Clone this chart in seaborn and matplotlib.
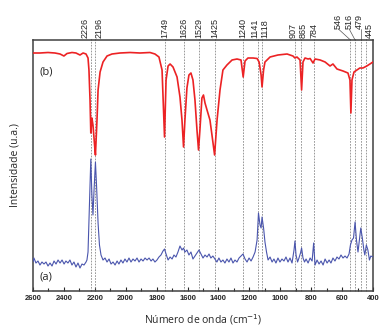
import numpy as np
import pandas as pd
import matplotlib
matplotlib.use("Agg")
import matplotlib.pyplot as plt
import seaborn as sns

# espectro (b) - vermelho
onda_b = [2600, 2555, 2503, 2458, 2425, 2400, 2380, 2348, 2322, 2296, 2276, 2257, 2244, 2238,
          2231, 2226, 2219, 2212, 2199, 2196, 2186, 2179, 2166, 2147, 2121, 2089, 2037, 1972,
          1908, 1843, 1811, 1785, 1765, 1749, 1739, 1726, 1713, 1694, 1668, 1649, 1636, 1626,
          1617, 1604, 1591, 1578, 1565, 1552, 1539, 1529, 1520, 1507, 1497, 1487, 1474, 1455,
          1442, 1425, 1409, 1390, 1371, 1345, 1312, 1280, 1254, 1240, 1228, 1209, 1176, 1150,
          1137, 1124, 1118, 1108, 1099, 1066, 1015, 956, 918, 905, 892, 872, 862, 853, 840,
          820, 807, 788, 775, 742, 710, 678, 659, 633, 594, 562, 549, 543, 536, 523, 504, 485,
          465, 440, 420, 400]
int_b = [238, 238, 238.5, 238, 237, 235, 237.5, 238.5, 238, 236, 238, 237, 233, 221,
         191, 158, 173, 166, 141, 136, 171, 201, 219, 229, 235, 237, 238, 238.5,
         238, 238.5, 237, 234, 221, 154, 211, 225, 227, 224, 214, 194, 171, 144,
         171, 203, 216, 218, 211, 191, 161, 141, 161, 193, 196, 188, 181, 171,
         156, 136, 171, 201, 221, 226, 231, 232, 231, 214, 230, 233, 233, 232.5,
         229, 216, 204, 221, 229, 234, 236, 237, 235, 233, 234, 231, 201, 229, 233,
         232, 232.5, 228, 232, 231, 229, 225, 227, 222, 220, 218, 211, 178, 211, 219, 221, 223,
         223, 225, 227, 229]

# espectro (a) - azul
onda_a = [2600, 2594, 2581, 2568, 2555, 2542, 2529, 2516, 2503, 2490, 2477, 2464, 2451, 2438,
          2425, 2412, 2399, 2387, 2374, 2361, 2348, 2335, 2322, 2309, 2296, 2283, 2270, 2257,
          2251, 2244, 2238, 2231, 2226, 2219, 2212, 2205, 2196, 2189, 2179, 2170, 2160, 2147,
          2134, 2121, 2108, 2095, 2082, 2069, 2056, 2044, 2031, 2018, 2005, 1992, 1979, 1966,
          1953, 1940, 1927, 1914, 1901, 1888, 1875, 1862, 1849, 1836, 1824, 1811, 1798, 1785,
          1772, 1759, 1749, 1739, 1726, 1713, 1700, 1688, 1675, 1662, 1649, 1636, 1626, 1617,
          1604, 1591, 1578, 1565, 1552, 1539, 1526, 1513, 1500, 1487, 1474, 1461, 1449, 1436,
          1423, 1410, 1397, 1384, 1371, 1358, 1345, 1332, 1319, 1306, 1293, 1280, 1267, 1254,
          1241, 1228, 1215, 1202, 1189, 1176, 1163, 1150, 1141, 1131, 1124, 1118, 1108, 1099,
          1089, 1079, 1066, 1053, 1041, 1028, 1015, 1002, 989, 976, 963, 950, 937, 924, 911,
          905, 898, 888, 879, 869, 862, 853, 843, 833, 820, 807, 794, 784, 775, 762, 749, 736,
          723, 710, 697, 684, 672, 659, 646, 633, 620, 607, 594, 581, 568, 555, 546, 536, 526,
          516, 507, 497, 488, 479, 469, 459, 453, 443, 433, 423, 414, 400]
int_a = [29, 33, 28, 30, 26, 29, 27, 29, 25, 28, 25, 30, 27, 31,
         28, 31, 27, 30, 28, 31, 26, 29, 24, 28, 23, 27, 26, 29,
         31, 39, 71, 111, 132, 96, 76, 101, 129, 106, 68, 46, 36, 31,
         33, 29, 32, 27, 29, 26, 30, 27, 31, 28, 32, 29, 33, 29,
         32, 30, 33, 29, 32, 30, 33, 31, 33, 30, 32, 29, 31, 34,
         36, 40, 42, 37, 31, 34, 32, 36, 34, 39, 45, 41, 43, 39,
         41, 36, 39, 32, 35, 38, 41, 37, 33, 36, 34, 37, 33, 35,
         32, 29, 33, 29, 31, 28, 32, 29, 33, 28, 31, 29, 33, 35,
         37, 32, 29, 33, 30, 34, 39, 51, 78, 66, 63, 74, 63, 49,
         39, 31, 34, 29, 32, 28, 33, 29, 32, 30, 34, 29, 33, 28, 41,
         50, 36, 29, 33, 38, 43, 33, 29, 32, 28, 33, 30, 48, 26, 31, 27, 30,
         26, 32, 28, 31, 28, 33, 30, 34, 32, 36, 33, 35, 33, 37, 46, 51, 53,
         69, 51, 39, 51, 63, 53, 41, 36, 46, 41, 31, 35, 34]

# bandas marcadas e posicao dos rotulos
bandas = [2226, 2196, 1749, 1626, 1529, 1425, 1240, 1141, 1118, 907, 865, 784, 546, 516, 479, 445]
rotulos_bandas = [str(b) for b in bandas]
pos_rotulos = [2262, 2172, 1749, 1626, 1529, 1425, 1240, 1162, 1098, 918, 853, 784, 626, 555, 491, 422]

sns.set_style("ticks")
plt.rcParams['font.family'] = ['Open Sans', 'DejaVu Sans']

fig = plt.figure(figsize=(3.87, 3.35), dpi=100)
ax = fig.add_axes([0.0853, 0.1313, 0.8785, 0.7493])

df_b = pd.DataFrame({'onda': onda_b, 'intensidade': int_b})
df_a = pd.DataFrame({'onda': onda_a, 'intensidade': int_a})

# linhas tracejadas das bandas
for b in bandas:
    ax.axvline(b, ymin=0, ymax=1.008, color='#888888', lw=0.6, ls=(0, (2, 1.5)), clip_on=False, zorder=1)

sns.lineplot(data=df_b, x='onda', y='intensidade', color='#ec2224', lw=1.2, sort=False, ax=ax, zorder=3)
sns.lineplot(data=df_a, x='onda', y='intensidade', color='#4a55ad', lw=0.8, sort=False, ax=ax, zorder=3)

ax.set_xlim(2600, 400)
ax.set_ylim(0, 251)
ax.set_xticks(np.arange(2600, 399, -200))
ax.set_xticks(np.arange(2500, 400, -200), minor=True)
ax.tick_params(axis='x', which='both', direction='in', length=3, width=0.8, labelsize=5.5, pad=3)
ax.tick_params(axis='x', which='minor', length=2)
for lbl in ax.get_xticklabels():
    lbl.set_fontweight('bold')
    lbl.set_family(['Liberation Sans', 'DejaVu Sans'])
ax.set_yticks([])
for s in ax.spines.values():
    s.set_linewidth(1.1)
    s.set_color('#404040')

ax.set_xlabel('Número de onda (cm$^{-1}$)', fontsize=7.5, labelpad=7)
ax.set_ylabel('Intensidade (u.a.)', fontsize=7.5, labelpad=9)

ax.text(2555, 219, '(b)', fontsize=8, va='center', ha='left')
ax.text(2555, 14, '(a)', fontsize=8, va='center', ha='left')

# rotulos das bandas acima do grafico
trans = ax.get_xaxis_transform()
for b, r, xt in zip(bandas, rotulos_bandas, pos_rotulos):
    yt = 1.045 if b in (546, 516, 479) else 1.006
    ax.text(xt, yt, r, rotation=90, ha='center', va='bottom', fontsize=6.5,
            family=['Liberation Sans', 'DejaVu Sans'], transform=trans, clip_on=False)
    if b in (546, 516, 479):
        ax.plot([xt if b != 479 else b, b], [yt, 1.0], color='#555555', lw=0.5,
                transform=trans, clip_on=False)

fig.savefig('out.png', dpi=100)
